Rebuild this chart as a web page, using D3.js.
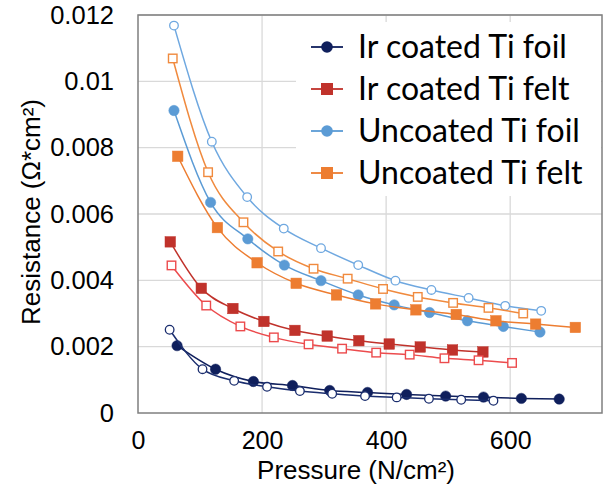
<!DOCTYPE html>
<html>
<head>
<meta charset="utf-8">
<script src="https://cdn.jsdelivr.net/npm/d3@7"></script>
<style>
  body { margin: 0; background: #fff; }
  text { font-family: "Liberation Sans", Arial, sans-serif; fill: #000; }
</style>
</head>
<body>
<svg id="chart" width="605" height="490"></svg>
<script>
// categories / labels
var legendLabels = ['Ir coated Ti foil', 'Ir coated Ti felt', 'Uncoated Ti foil', 'Uncoated Ti felt'];
var xTicks = [0, 200, 400, 600];
var yTicks = [0, 0.002, 0.004, 0.006, 0.008, 0.01, 0.012];

// pressure (N/cm2) and resistance (ohm*cm2), two runs per sample (filled / open markers)
var irFoilP1 = [63, 125, 186, 249, 309, 370, 433, 496, 557, 618, 679];
var irFoilR1 = [0.00203, 0.00132, 0.00095, 0.00083, 0.00068, 0.00062, 0.00056, 0.00051, 0.00048, 0.00044, 0.00042];
var irFoilP2 = [51, 104, 155, 208, 261, 313, 366, 417, 469, 521, 573];
var irFoilR2 = [0.00251, 0.00132, 0.00097, 0.00079, 0.00066, 0.00058, 0.00051, 0.00047, 0.00043, 0.0004, 0.00037];

var irFeltP1 = [52, 102, 153, 203, 253, 305, 356, 405, 455, 507, 556];
var irFeltR1 = [0.00516, 0.00376, 0.00315, 0.00276, 0.00249, 0.00232, 0.00218, 0.00208, 0.00199, 0.0019, 0.00184];
var irFeltP2 = [54, 110, 165, 219, 275, 329, 384, 438, 494, 549, 603];
var irFeltR2 = [0.00445, 0.00324, 0.00261, 0.00228, 0.00207, 0.00194, 0.00182, 0.00176, 0.00165, 0.00159, 0.00151];

var unFoilP1 = [58, 117, 177, 236, 295, 355, 413, 470, 531, 589, 648];
var unFoilR1 = [0.00912, 0.00635, 0.00525, 0.00446, 0.00399, 0.00356, 0.00326, 0.00303, 0.00278, 0.00261, 0.00244];
var unFoilP2 = [58, 119, 176, 235, 295, 355, 415, 473, 533, 592, 650];
var unFoilR2 = [0.01168, 0.00818, 0.00651, 0.00556, 0.00497, 0.00446, 0.00399, 0.00371, 0.00347, 0.00323, 0.00308];

var unFeltP1 = [64, 128, 192, 255, 320, 383, 448, 513, 577, 641, 705];
var unFeltR1 = [0.00774, 0.00559, 0.00453, 0.00391, 0.00356, 0.00329, 0.00311, 0.00297, 0.00278, 0.00268, 0.00258];
var unFeltP2 = [56, 113, 170, 226, 283, 338, 395, 451, 508, 565, 621];
var unFeltR2 = [0.01069, 0.00726, 0.00575, 0.00487, 0.00435, 0.00405, 0.00374, 0.0035, 0.00332, 0.00317, 0.003];

(function () {
    function zip(p, r) {
        return p.map(function(v, i) { return { x: v, y: r[i] }; });
    }

    var series = [
        { pts: zip(irFoilP1, irFoilR1), color: '#0f1f5c', shape: 'circle', open: false },
        { pts: zip(irFoilP2, irFoilR2), color: '#1a2d6e', shape: 'circle', open: true },
        { pts: zip(irFeltP1, irFeltR1), color: '#c0322b', shape: 'square', open: false },
        { pts: zip(irFeltP2, irFeltR2), color: '#ec4b4d', shape: 'square', open: true },
        { pts: zip(unFoilP1, unFoilR1), color: '#5b9bd5', shape: 'circle', open: false },
        { pts: zip(unFoilP2, unFoilR2), color: '#6fa8e0', shape: 'circle', open: true },
        { pts: zip(unFeltP1, unFeltR1), color: '#ed7d31', shape: 'square', open: false },
        { pts: zip(unFeltP2, unFeltR2), color: '#f08a3e', shape: 'square', open: true }
    ];
    var legendColors = ['#0f1f5c', '#c0322b', '#5b9bd5', '#ed7d31'];
    var legendShapes = ['circle', 'square', 'circle', 'square'];

    var pLeft = 138, pRight = 602, pTop = 15, pBottom = 413;

    var svg = d3.select('#chart');

    var x = d3.scaleLinear().domain([0, 748]).range([pLeft, pRight]);
    var y = d3.scaleLinear().domain([0, 0.012]).range([pBottom, pTop]);

    // gridlines
    svg.append('g').selectAll('line')
        .data(xTicks.slice(1))
        .enter().append('line')
        .attr('x1', function(d) { return x(d); }).attr('x2', function(d) { return x(d); })
        .attr('y1', pTop).attr('y2', pBottom)
        .attr('stroke', '#d9d9d9').attr('stroke-width', 1.3);

    svg.append('g').selectAll('line')
        .data(yTicks.slice(1))
        .enter().append('line')
        .attr('x1', pLeft).attr('x2', pRight)
        .attr('y1', function(d) { return y(d); }).attr('y2', function(d) { return y(d); })
        .attr('stroke', '#d9d9d9').attr('stroke-width', 1.3);

    // legend background (hides gridlines behind it)
    svg.append('rect')
        .attr('x', 296).attr('y', 22).attr('width', 305).attr('height', 174)
        .attr('fill', '#fff');

    // plot border
    svg.append('rect')
        .attr('x', pLeft).attr('y', pTop)
        .attr('width', pRight - pLeft).attr('height', pBottom - pTop)
        .attr('fill', 'none').attr('stroke', '#7f7f7f').attr('stroke-width', 1.5);

    // axes (labels only)
    var xAxis = d3.axisBottom(x).tickValues(xTicks).tickSize(0).tickPadding(18).tickFormat(d3.format('d'));
    var gx = svg.append('g').attr('transform', 'translate(0,' + pBottom + ')').call(xAxis);
    gx.select('.domain').remove();
    gx.selectAll('text').attr('font-size', 25).style('font-family', '"Liberation Sans", Arial, sans-serif').attr('fill', '#000');

    var yAxis = d3.axisLeft(y).tickValues(yTicks).tickSize(0).tickPadding(24)
        .tickFormat(function(d) { return d === 0 ? '0' : String(+d.toFixed(3)); });
    var gy = svg.append('g').attr('transform', 'translate(' + pLeft + ',0)').call(yAxis);
    gy.select('.domain').remove();
    gy.selectAll('text').attr('font-size', 25.5).style('font-family', '"Liberation Sans", Arial, sans-serif').attr('fill', '#000');

    // axis titles
    svg.append('text')
        .attr('x', 356).attr('y', 479)
        .attr('text-anchor', 'middle').attr('font-size', 26)
        .text('Pressure (N/cm\u00B2)');

    svg.append('text')
        .attr('transform', 'translate(40,212) rotate(-90)')
        .attr('text-anchor', 'middle').attr('font-size', 26)
        .text('Resistance (\u03A9*cm\u00B2)');

    // lines and markers
    var line = d3.line()
        .x(function(d) { return x(d.x); })
        .y(function(d) { return y(d.y); })
        .curve(d3.curveMonotoneX);

    var sg = svg.selectAll('g.series')
        .data(series)
        .enter().append('g').attr('class', 'series');

    sg.append('path')
        .attr('d', function(s) { return line(s.pts); })
        .attr('fill', 'none')
        .attr('stroke', function(s) { return s.color; })
        .attr('stroke-width', 1.5);

    sg.each(function(s) {
        var g = d3.select(this);
        if (s.shape === 'circle') {
            g.selectAll('circle').data(s.pts).enter().append('circle')
                .attr('cx', function(d) { return x(d.x); })
                .attr('cy', function(d) { return y(d.y); })
                .attr('r', s.open ? 4.3 : 5.2)
                .attr('fill', s.open ? '#fff' : s.color)
                .attr('stroke', s.color)
                .attr('stroke-width', s.open ? 1.3 : 0.5);
        } else {
            var sz = s.open ? 8.5 : 10.5;
            g.selectAll('rect').data(s.pts).enter().append('rect')
                .attr('x', function(d) { return x(d.x) - sz / 2; })
                .attr('y', function(d) { return y(d.y) - sz / 2; })
                .attr('width', sz).attr('height', sz)
                .attr('fill', s.open ? '#fff' : s.color)
                .attr('stroke', s.color)
                .attr('stroke-width', s.open ? 1.4 : 0.5);
        }
    });

    // legend
    var lg = svg.selectAll('g.legend')
        .data(legendLabels)
        .enter().append('g').attr('class', 'legend')
        .attr('transform', function(d, i) { return 'translate(0,' + (47 + i * 42) + ')'; });

    lg.append('line')
        .attr('x1', 311).attr('x2', 343).attr('y1', 0).attr('y2', 0)
        .attr('stroke', function(d, i) { return legendColors[i]; })
        .attr('stroke-width', 1.8);

    lg.each(function(d, i) {
        var g = d3.select(this);
        if (legendShapes[i] === 'circle') {
            g.append('circle').attr('cx', 327).attr('cy', 0).attr('r', 5.8).attr('fill', legendColors[i]);
        } else {
            g.append('rect').attr('x', 321).attr('y', -6).attr('width', 12).attr('height', 12).attr('fill', legendColors[i]);
        }
    });

    lg.append('text')
        .attr('x', 358).attr('y', 0).attr('dy', '0.35em')
        .attr('font-size', 32)
        .style('font-family', 'Lato, "Open Sans", sans-serif')
        .text(function(d) { return d; });
})();
</script>
</body>
</html>
